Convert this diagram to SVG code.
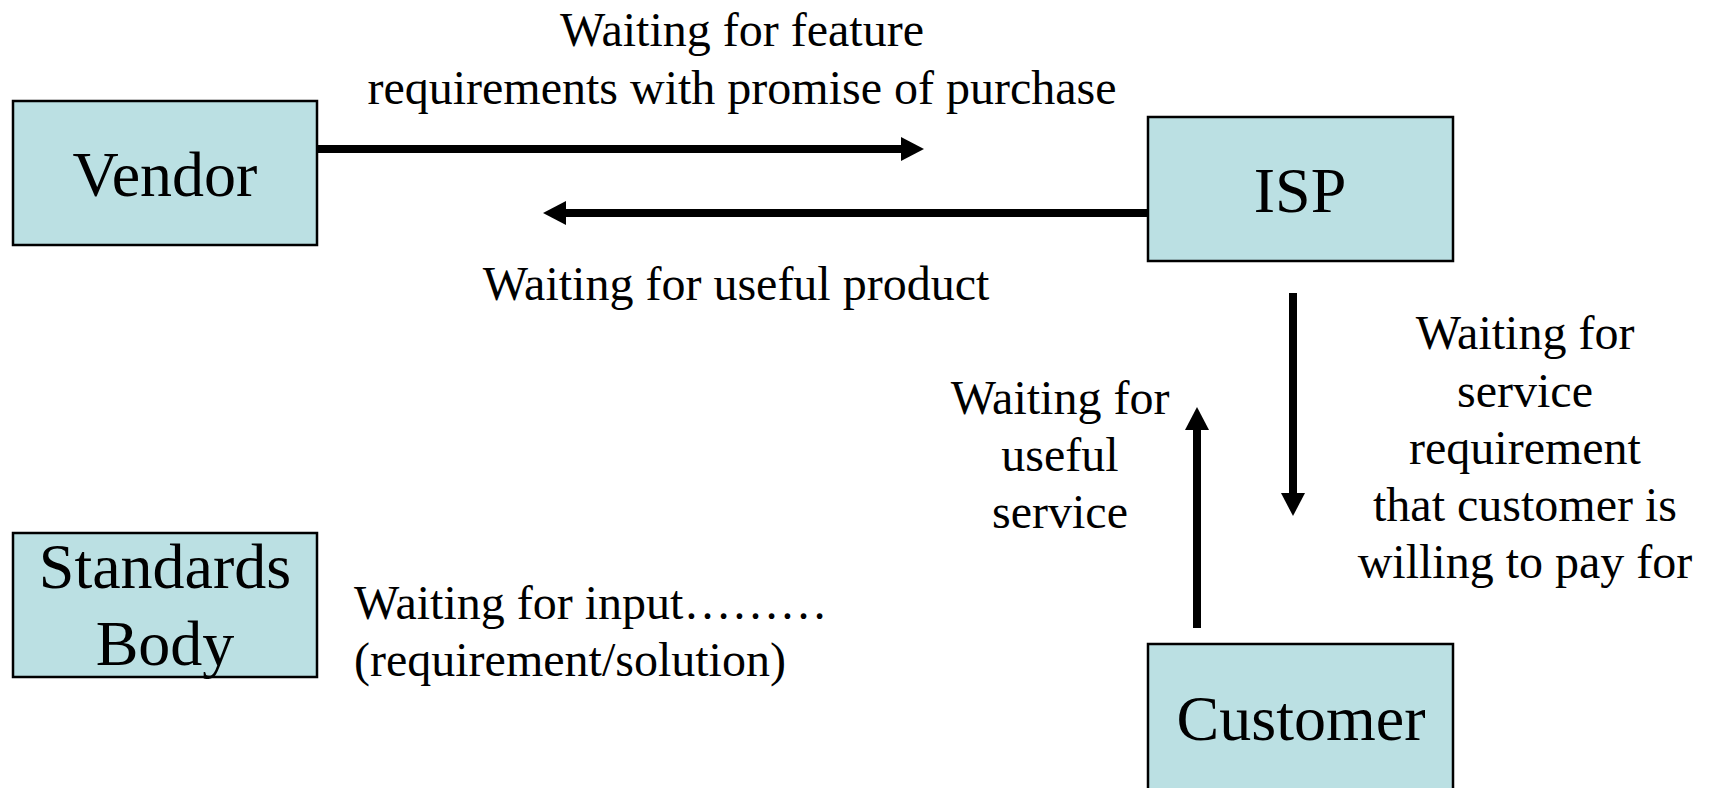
<svg xmlns="http://www.w3.org/2000/svg" width="1710" height="788" viewBox="0 0 1710 788">
<style>
.box{fill:#BBE0E3;stroke:#000;stroke-width:2.5}
.nt{font-family:"Liberation Serif","Times New Roman",serif;font-size:64px;fill:#000;text-anchor:middle}
.lb{font-family:"Liberation Serif","Times New Roman",serif;font-size:48px;fill:#000;text-anchor:middle}
.ln{stroke:#000;stroke-width:8;fill:none;marker-end:url(#ah)}
</style>
<defs>
<marker id="ah" markerUnits="userSpaceOnUse" viewBox="0 0 23 24" markerWidth="23" markerHeight="24" refX="1" refY="12" orient="auto">
<path d="M0,0 L23,12 L0,24 Z" fill="#000"/>
</marker>
</defs>
<rect width="1710" height="788" fill="#fff"/>
<g id="vendor"><rect class="box" x="13" y="101" width="304" height="144"/><text class="nt" x="165" y="196">Vendor</text></g>
<g id="isp"><rect class="box" x="1148" y="117" width="305" height="144"/><text class="nt" x="1300" y="212">ISP</text></g>
<g id="standards"><rect class="box" x="13" y="533" width="304" height="144"/><text class="nt" x="165" y="588">Standards</text><text class="nt" x="165" y="665">Body</text></g>
<g id="customer"><rect class="box" x="1148" y="644" width="305" height="170"/><text class="nt" x="1301" y="740">Customer</text></g>
<g id="connectors">
<path class="ln" d="M317,149 H902"/>
<path class="ln" d="M1148,213 H565"/>
<path class="ln" d="M1293,293 V494"/>
<path class="ln" d="M1197,628 V429"/>
</g>
<g id="labels">
<text class="lb" x="742" y="46">Waiting for feature</text>
<text class="lb" x="742" y="104">requirements with promise of purchase</text>
<text class="lb" x="736" y="300">Waiting for useful product</text>
<text class="lb" x="1060" y="414">Waiting for</text>
<text class="lb" x="1060" y="471">useful</text>
<text class="lb" x="1060" y="528">service</text>
<text class="lb" x="1525" y="349">Waiting for</text>
<text class="lb" x="1525" y="407">service</text>
<text class="lb" x="1525" y="464">requirement</text>
<text class="lb" x="1525" y="521">that customer is</text>
<text class="lb" x="1525" y="578">willing to pay for</text>
<text class="lb" x="354" y="619" style="text-anchor:start">Waiting for input………</text>
<text class="lb" x="354" y="676" style="text-anchor:start">(requirement/solution)</text>
</g>
</svg>
